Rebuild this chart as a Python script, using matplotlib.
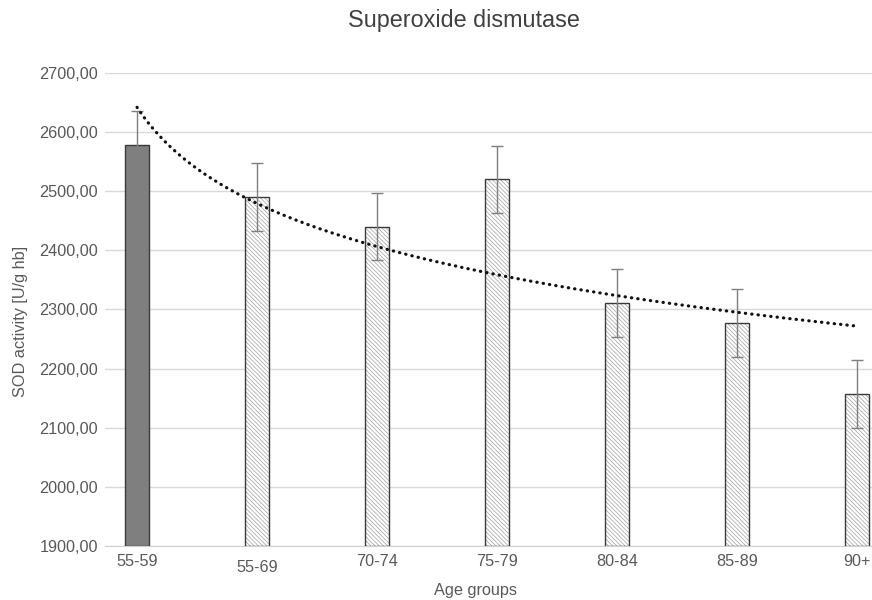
import numpy as np
import matplotlib
matplotlib.use("Agg")
import matplotlib.pyplot as plt

plt.rcParams['font.family'] = ['Liberation Sans', 'DejaVu Sans']
plt.rcParams['hatch.linewidth'] = 0.5

categories = ["55-59", "55-69", "70-74", "75-79", "80-84", "85-89", "90+"]
sod_values = [2578, 2490, 2440, 2520, 2311, 2277, 2157]
sod_errors = [58, 57, 57, 57, 57, 57, 58]
# logarithmic trend line parameters: y = a + b*ln(x + c), x = 1..7
trend_a = 2531.0
trend_b = -139.0
trend_c = -0.55
yticks = [1900, 2000, 2100, 2200, 2300, 2400, 2500, 2600, 2700]

text_col = "#595959"
fs = 11.7
fig = plt.figure(figsize=(8.72, 6.0), dpi=100)
ax = fig.add_axes([105/872, 1 - 546/600, 1 - 105/872, (546 - 73)/600])

x = np.arange(len(categories))
w = 0.205
# first bar solid
ax.bar(x[0], sod_values[0] - 1900, bottom=1900, width=w, color="#7f7f7f",
       edgecolor="#3a3a3a", linewidth=1.0, zorder=3)
# hatched bars
ax.bar(x[1:], np.array(sod_values[1:]) - 1900, bottom=1900, width=w,
       color="white", edgecolor="#a0a0a0", hatch="\\\\\\\\\\\\\\\\", linewidth=0, zorder=3)
ax.bar(x[1:], np.array(sod_values[1:]) - 1900, bottom=1900, width=w,
       color="none", edgecolor="#3a3a3a", linewidth=1.0, zorder=4)
ax.errorbar(x, sod_values, yerr=sod_errors, fmt="none", ecolor="#7f7f7f",
            elinewidth=1.0, capsize=4, capthick=1.0, zorder=5)

xs = np.linspace(0, len(categories) - 1, 400)
trend = trend_a + trend_b * np.log(xs + 1 + trend_c)
ax.plot(xs, trend, linestyle=(0, (0.1, 1.9)), color="#111111", linewidth=2.3,
        dash_capstyle="round", solid_capstyle="round", zorder=6)

ax.set_ylim(1900, 2700)
ax.set_xlim(-0.267, 6.125)
ax.set_yticks(yticks)
ax.set_yticklabels([f"{v:.2f}".replace(".", ",") for v in yticks],
                   fontsize=fs, color=text_col)
ax.tick_params(axis="y", length=0, pad=5)
ax.set_xticks(x)
ax.set_xticklabels([])
ax.tick_params(axis="x", length=0)
for i, lab in enumerate(categories):
    dy = -10 if i == 1 else -6
    ax.annotate(lab, xy=(x[i], 0), xycoords=("data", "axes fraction"),
                xytext=(0, dy), textcoords="offset points", ha="center", va="top",
                fontsize=fs, color=text_col)
ax.grid(axis="y", color="#d9d9d9", linewidth=1.0, zorder=0)
for s in ["top", "right", "left"]:
    ax.spines[s].set_visible(False)
ax.spines["bottom"].set_color("#d0d0d0")
ax.spines["bottom"].set_zorder(2)

fig.text(464/872, 1 - 21/600, "Superoxide dismutase", ha="center", va="center",
         fontsize=16.8, color="#404040")
fig.text(476/872, 1 - 591/600, "Age groups", ha="center", va="center",
         fontsize=fs, color=text_col)
fig.text(20/872, 1 - 321/600, "SOD activity [U/g hb]", ha="center", va="center",
         rotation=90, fontsize=fs, color=text_col)

fig.savefig("out.png", dpi=100)
